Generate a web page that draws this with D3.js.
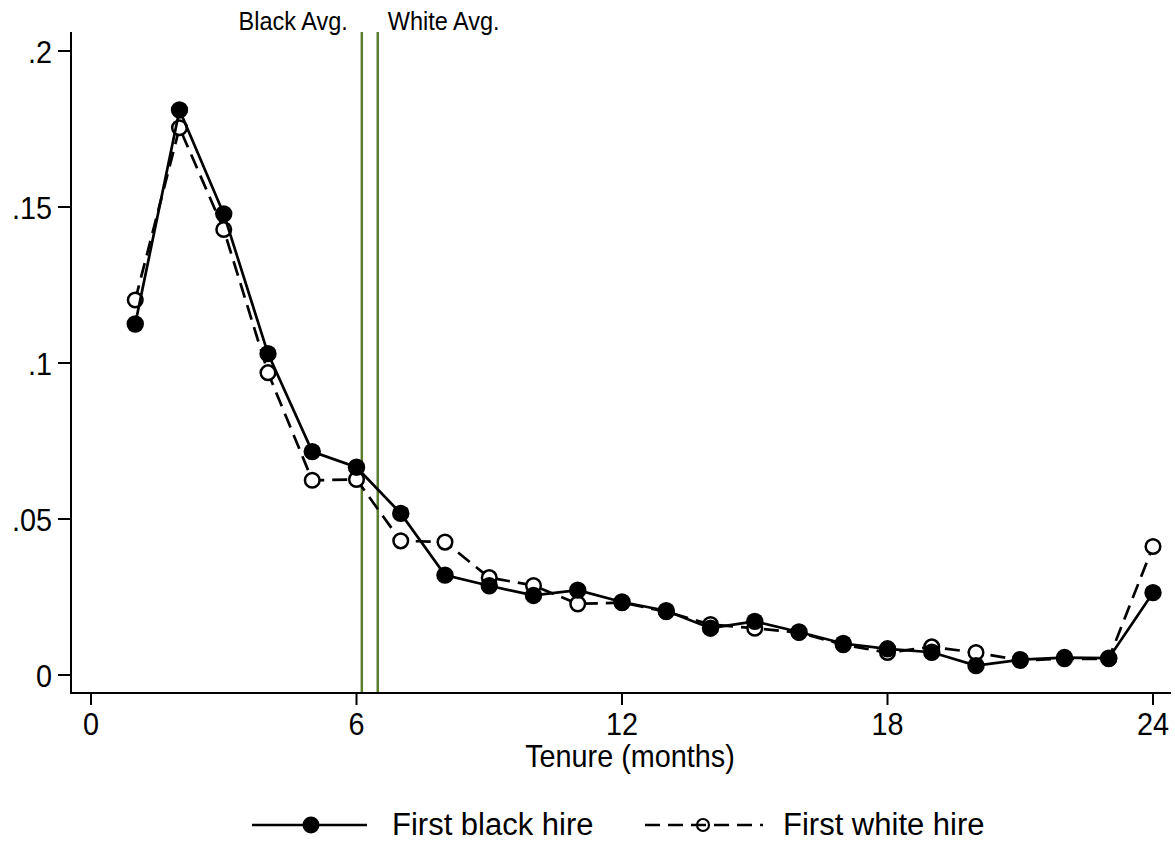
<!DOCTYPE html>
<html lang="en">
<head>
    <meta charset="utf-8">
    <script src="https://cdn.jsdelivr.net/npm/d3@7"></script>
    <style>
        body { margin: 0; background: #fff; }
        text { font-family: "Liberation Sans", Arial, sans-serif; fill: #000; }
    </style>
</head>
<body>
<script>
    // tenure month and share of exits
    var months = [1, 2, 3, 4, 5, 6, 7, 8, 9, 10, 11, 12, 13, 14, 15, 16, 17, 18, 19, 20, 21, 22, 23, 24];
    var blackHire = [0.1125, 0.1811, 0.1478, 0.1030, 0.0716, 0.0666, 0.0518, 0.0320, 0.0286, 0.0255, 0.0272,
        0.0234, 0.0206, 0.0150, 0.0172, 0.0138, 0.0101, 0.0084, 0.0073, 0.0030, 0.0049, 0.0056, 0.0054, 0.0264];
    var whiteHire = [0.1202, 0.1754, 0.1428, 0.0969, 0.0624, 0.0627, 0.0430, 0.0426, 0.0312, 0.0287, 0.0228,
        0.0232, 0.0203, 0.0162, 0.0150, 0.0136, 0.0097, 0.0072, 0.0090, 0.0072, 0.0047, 0.0052, 0.0052, 0.0412];
    var xTicks = [0, 6, 12, 18, 24];
    var yTicks = [0, 0.05, 0.1, 0.15, 0.2];
    var yTickLabels = ['0', '.05', '.1', '.15', '.2'];
    var avgLines = [{label: 'Black Avg.', value: 6.12}, {label: 'White Avg.', value: 6.48}];
    var seriesNames = ['First black hire', 'First white hire'];

    var svg = d3.select('body').append('svg')
            .attr('width', 1175)
            .attr('height', 842);

    var x = d3.scaleLinear().domain([0, 24]).range([91, 1153]);
    var y = d3.scaleLinear().domain([0, 0.2]).range([675, 51]);

    var axisLeft = 71, axisBottom = 693, plotTop = 32, plotRight = 1171;

    // text with a horizontal squeeze, the picture's font is a little narrow
    function label(g, px, py, txt, size, anchor, sq) {
        return g.append('text')
                .attr('transform', 'translate(' + px + ',' + py + ') scale(' + sq + ',1)')
                .attr('text-anchor', anchor)
                .style('font-size', size + 'px')
                .text(txt);
    }

    // average lines
    avgLines.forEach(function (d, i) {
        svg.append('line')
                .attr('x1', x(d.value)).attr('x2', x(d.value))
                .attr('y1', plotTop).attr('y2', axisBottom)
                .attr('stroke', '#5b7f2d')
                .attr('stroke-width', 2.5);
        if (i === 0) {
            label(svg, x(d.value) - 14, 30, d.label, 25, 'end', 0.94);
        } else {
            label(svg, x(d.value) + 10, 30, d.label, 25, 'start', 0.94);
        }
    });

    // axes
    svg.append('line')
            .attr('x1', axisLeft).attr('x2', axisLeft)
            .attr('y1', plotTop).attr('y2', axisBottom)
            .attr('stroke', '#000').attr('stroke-width', 2);
    svg.append('line')
            .attr('x1', axisLeft - 1).attr('x2', plotRight)
            .attr('y1', axisBottom).attr('y2', axisBottom)
            .attr('stroke', '#000').attr('stroke-width', 2);

    yTicks.forEach(function (t, i) {
        svg.append('line')
                .attr('x1', axisLeft - 13).attr('x2', axisLeft)
                .attr('y1', y(t)).attr('y2', y(t))
                .attr('stroke', '#000').attr('stroke-width', 2);
        label(svg, 52, y(t) + 12, yTickLabels[i], 32, 'end', 0.9);
    });

    xTicks.forEach(function (t) {
        svg.append('line')
                .attr('x1', x(t)).attr('x2', x(t))
                .attr('y1', axisBottom).attr('y2', axisBottom + 12)
                .attr('stroke', '#000').attr('stroke-width', 2);
        label(svg, x(t), 735, t, 32, 'middle', 0.9);
    });

    label(svg, 630, 767, 'Tenure (months)', 32, 'middle', 0.9);

    // series
    var line = d3.line()
            .x(function (d) { return x(d[0]); })
            .y(function (d) { return y(d[1]); });

    var whitePts = months.map(function (m, i) { return [m, whiteHire[i]]; });
    var blackPts = months.map(function (m, i) { return [m, blackHire[i]]; });

    svg.append('path')
            .attr('d', line(whitePts))
            .attr('fill', 'none')
            .attr('stroke', '#000')
            .attr('stroke-width', 2.7)
            .attr('stroke-dasharray', '15,8');

    svg.selectAll('circle.white')
            .data(whitePts)
            .enter()
            .append('circle')
            .attr('class', 'white')
            .attr('cx', function (d) { return x(d[0]); })
            .attr('cy', function (d) { return y(d[1]); })
            .attr('r', 7.3)
            .attr('fill', '#fff')
            .attr('stroke', '#000')
            .attr('stroke-width', 2.5);

    svg.append('path')
            .attr('d', line(blackPts))
            .attr('fill', 'none')
            .attr('stroke', '#000')
            .attr('stroke-width', 2.7);

    svg.selectAll('circle.black')
            .data(blackPts)
            .enter()
            .append('circle')
            .attr('class', 'black')
            .attr('cx', function (d) { return x(d[0]); })
            .attr('cy', function (d) { return y(d[1]); })
            .attr('r', 8.7)
            .attr('fill', '#000');

    // legend
    var ly = 825;
    svg.append('line')
            .attr('x1', 252).attr('x2', 367)
            .attr('y1', ly).attr('y2', ly)
            .attr('stroke', '#000').attr('stroke-width', 2.7);
    svg.append('circle')
            .attr('cx', 311).attr('cy', ly).attr('r', 8.5)
            .attr('fill', '#000');
    label(svg, 392, 835, seriesNames[0], 31, 'start', 1);

    svg.append('line')
            .attr('x1', 645).attr('x2', 763)
            .attr('y1', ly).attr('y2', ly)
            .attr('stroke', '#000').attr('stroke-width', 2.7)
            .attr('stroke-dasharray', '15,8');
    svg.append('circle')
            .attr('cx', 703).attr('cy', ly).attr('r', 6)
            .attr('fill', 'none')
            .attr('stroke', '#000').attr('stroke-width', 2.2);
    label(svg, 783, 835, seriesNames[1], 31, 'start', 1);
</script>
</body>
</html>
